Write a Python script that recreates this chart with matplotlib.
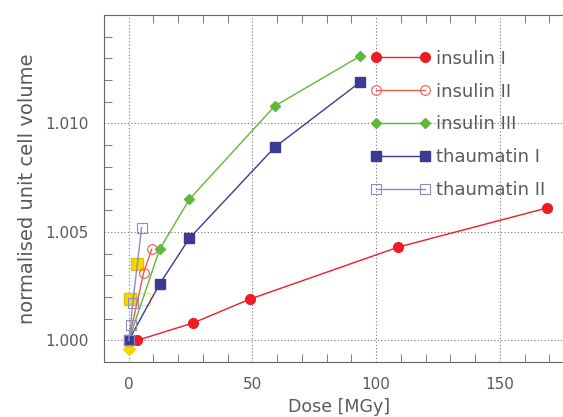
import matplotlib.pyplot as plt
from matplotlib.ticker import MultipleLocator, FixedLocator

# dose (MGy) and normalised unit cell volume for each crystal
ins1_dose = [3.5, 26, 49, 109, 169]
ins1_vol = [1.0000, 1.0008, 1.0019, 1.0043, 1.0061]

ins2_dose = [0, 6.0, 9.3]
ins2_vol = [1.0000, 1.0031, 1.0042]

ins3_dose = [0, 12.5, 24.5, 59, 93.5]
ins3_vol = [1.0000, 1.0042, 1.0065, 1.0108, 1.0131]

thau1_dose = [0, 12.5, 24.5, 59, 93.5]
thau1_vol = [1.0000, 1.0026, 1.0047, 1.0089, 1.0119]

thau2_dose = [0, 0.8, 1.6, 5.2]
thau2_vol = [1.0000, 1.0007, 1.0017, 1.0052]

# extra single measurements, not in the legend
extra_sq_dose = [0.4, 3.2]
extra_sq_vol = [1.0019, 1.0035]
extra_open_dose = [6.0]
extra_open_vol = [1.0019]
extra_dia_dose = [0]
extra_dia_vol = [0.9996]

y_ticks = [1.000, 1.005, 1.010]

txt = '#5a5a5a'
plt.rcParams['font.family'] = 'DejaVu Sans'

fig = plt.figure(figsize=(5.63, 4.17), dpi=100)
ax = fig.add_axes([104 / 563, 55 / 417, 470 / 563, 347 / 417])

ax.plot(extra_dia_dose, extra_dia_vol, 'D', color='#f5d800', ms=7, mec='none')
ax.plot(extra_sq_dose, extra_sq_vol, 's', color='#f5d800', ms=9, mec='#e0c000')
ax.plot(extra_open_dose, extra_open_vol, 's', mfc='none', mec='#f5e070', ms=9, mew=0.8)

ax.plot(ins1_dose, ins1_vol, '-o', color='#ee1c24', lw=1, ms=7, label='insulin I')
ax.plot(ins2_dose, ins2_vol, '-o', color='#ef5a50', lw=1, ms=7, mfc='none', mew=0.8,
        label='insulin II')
ax.plot(ins3_dose, ins3_vol, '-D', color='#5fb83c', lw=1, ms=5, label='insulin III')
ax.plot(thau1_dose, thau1_vol, '-s', color='#3d3a94', lw=1, ms=7.5, label='thaumatin I')
ax.plot(thau2_dose, thau2_vol, '-s', color='#8e8acb', lw=1, ms=7.5, mfc='none', mew=0.8,
        label='thaumatin II')

ax.set_xlim(-10, 180)
ax.set_ylim(0.999, 1.015)

ax.xaxis.set_major_locator(MultipleLocator(50))
ax.xaxis.set_minor_locator(MultipleLocator(10))
ax.yaxis.set_major_locator(FixedLocator(y_ticks))
ax.yaxis.set_minor_locator(MultipleLocator(0.001))
ax.yaxis.set_major_formatter(lambda v, pos: f'{v:.3f}')

ax.tick_params(which='both', direction='in', top=True, right=False,
               color='#666666', labelcolor=txt, labelsize=11)
ax.tick_params(axis='y', which='major', length=0, pad=11)
ax.tick_params(axis='x', which='major', length=0, pad=11)
ax.tick_params(which='minor', length=6)
ax.grid(True, which='major', ls=(0, (1, 2)), color='#777777', lw=0.8)

for s in ax.spines.values():
    s.set_color('#666666')
    s.set_linewidth(0.8)

ax.set_xlabel('Dose [MGy]', color=txt, fontsize=12.5, labelpad=4)
ax.set_ylabel('normalised unit cell volume', color=txt, fontsize=14, labelpad=6)

leg = ax.legend(loc='upper left', bbox_to_anchor=(0.568, 0.9), frameon=False,
                numpoints=2, fontsize=13, handlelength=3.3, handletextpad=0.3,
                labelspacing=0.82, borderpad=0, borderaxespad=0)
for t in leg.get_texts():
    t.set_color(txt)

fig.savefig('out.png', dpi=100)
